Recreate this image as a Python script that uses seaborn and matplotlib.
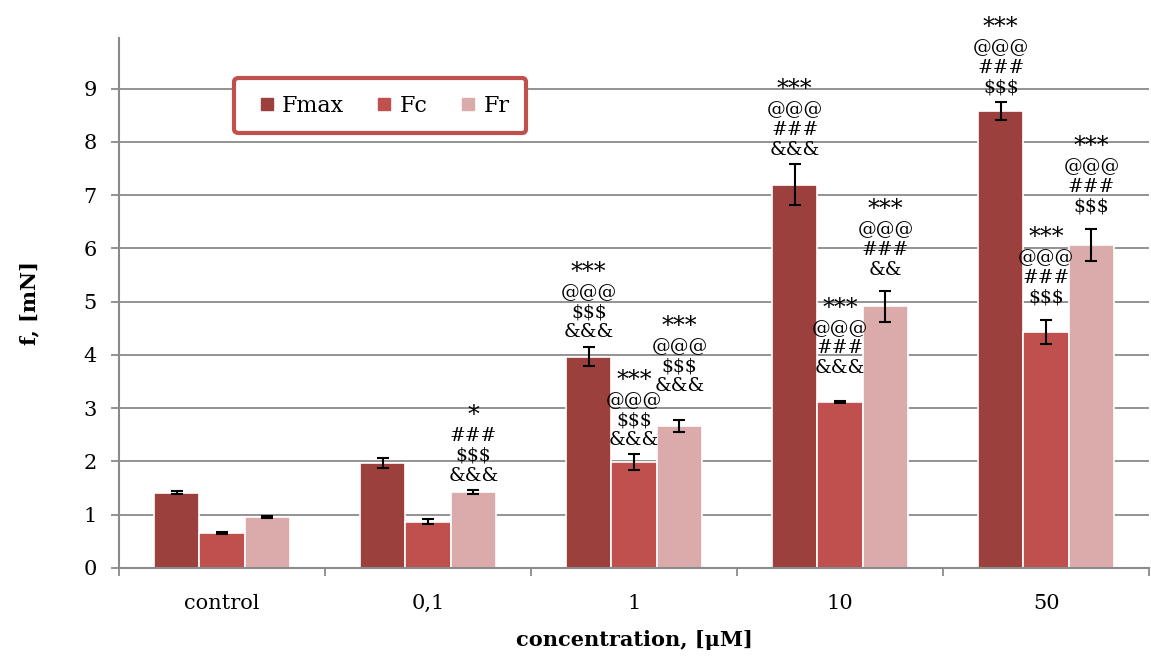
import pandas as pd
import matplotlib.pyplot as plt
import seaborn as sns
from matplotlib.lines import Line2D

# Data
concentrations = ["control", "0,1", "1", "10", "50"]
series = ["Fmax", "Fc", "Fr"]

fmax_mean = [1.41, 1.97, 3.97, 7.20, 8.58]
fmax_err = [0.03, 0.10, 0.18, 0.38, 0.17]
fc_mean = [0.65, 0.87, 1.98, 3.12, 4.43]
fc_err = [0.02, 0.04, 0.15, 0.02, 0.22]
fr_mean = [0.96, 1.42, 2.66, 4.91, 6.06]
fr_err = [0.02, 0.04, 0.11, 0.29, 0.30]

fmax_marks = ["", "", "***\n@@@\n$$$\n&&&", "***\n@@@\n###\n&&&", "***\n@@@\n###\n$$$"]
fc_marks = ["", "", "***\n@@@\n$$$\n&&&", "***\n@@@\n###\n&&&", "***\n@@@\n###\n$$$"]
fr_marks = ["", "*\n###\n$$$\n&&&", "***\n@@@\n$$$\n&&&", "***\n@@@\n###\n&&", "***\n@@@\n###\n$$$"]

colors = {"Fmax": "#9C403E", "Fc": "#C0504D", "Fr": "#DBAAAA"}

# extra lift (points) for some labels, as placed in the original
label_lift = {("Fr", "1"): 14, ("Fc", "10"): 13, ("Fr", "10"): 5,
              ("Fc", "50"): 6, ("Fr", "50"): 6}

df = pd.DataFrame({
    "conc": concentrations * 3,
    "series": [s for s in series for _ in concentrations],
    "value": fmax_mean + fc_mean + fr_mean,
})
errors = [fmax_err, fc_err, fr_err]
marks = [fmax_marks, fc_marks, fr_marks]

sns.set_theme(style="white")
plt.rcParams['font.family'] = ['DejaVu Serif']
plt.rcParams['text.color'] = 'black'
plt.rcParams['axes.labelcolor'] = 'black'

fig = plt.figure(figsize=(11.51, 6.58), dpi=100)
ax = fig.add_axes([0.1034, 0.137, 0.895, 0.805])

sns.barplot(data=df, x="conc", y="value", hue="series", order=concentrations,
            hue_order=series, palette=colors, saturation=1, width=0.66, gap=0,
            errorbar=None, edgecolor="white", linewidth=1.2, legend=False, ax=ax)

# error bars + significance marks
bar_groups = list(ax.containers)
for j, cont in enumerate(bar_groups):
    for i, bar in enumerate(cont.patches):
        xc = bar.get_x() + bar.get_width() / 2
        h = bar.get_height()
        ax.errorbar(xc, h, yerr=errors[j][i], fmt="none", ecolor="black",
                    elinewidth=1.5, capsize=4, capthick=1.5, zorder=4)
        if not marks[j][i]:
            continue
        stars, rest = marks[j][i].split("\n", 1)
        lift = 4 + label_lift.get((series[j], concentrations[i]), 0)
        block = ax.annotate(rest, xy=(xc, h + errors[j][i]), xytext=(0, lift),
                            textcoords="offset points", ha="center", va="bottom",
                            fontsize=13.5, linespacing=1.12, color="black", zorder=5)
        ax.annotate(stars, xy=(0.5, 1), xycoords=block, xytext=(0, 0),
                    textcoords="offset points", ha="center", va="bottom",
                    fontsize=17, color="black", zorder=5)

ax.set_ylim(0, 9.95)
ax.set_xlim(-0.5, 4.5)
ax.set_yticks(range(10))
ax.grid(axis="y", color="#8a8a8a", linewidth=1.3)
ax.set_axisbelow(True)

for side in ["top", "right"]:
    ax.spines[side].set_visible(False)
for side in ["left", "bottom"]:
    ax.spines[side].set_color("#8a8a8a")
    ax.spines[side].set_linewidth(1.5)

ax.tick_params(axis="y", direction="out", length=6, width=1.3, color="#8a8a8a",
               pad=10, labelsize=15, labelcolor="black", left=True)
ax.tick_params(axis="x", which="major", length=0, pad=19, labelsize=15,
               labelcolor="black")
ax.set_xticks([k - 0.5 for k in range(6)], minor=True)
ax.tick_params(axis="x", which="minor", direction="out", length=6, width=1.3,
               color="#8a8a8a", bottom=True)

ax.set_xlabel("concentration, [μM]", fontsize=15, fontweight="bold", labelpad=12)
ax.set_ylabel("f, [mN]", fontsize=15, fontweight="bold", labelpad=32)

handles = [Line2D([], [], marker="s", linestyle="none", markersize=9,
                  markerfacecolor=colors[s], markeredgecolor=colors[s]) for s in series]
leg = ax.legend(handles, series, loc="upper left", bbox_to_anchor=(0.112, 0.925),
                ncol=3, fontsize=16, frameon=True, fancybox=True, handletextpad=0.0,
                columnspacing=1.1, borderpad=0.75, handlelength=1.4,
                borderaxespad=0)
leg.get_frame().set_edgecolor("#C0504D")
leg.get_frame().set_linewidth(3)
leg.get_frame().set_alpha(1)

fig.savefig("out.png", dpi=100)
